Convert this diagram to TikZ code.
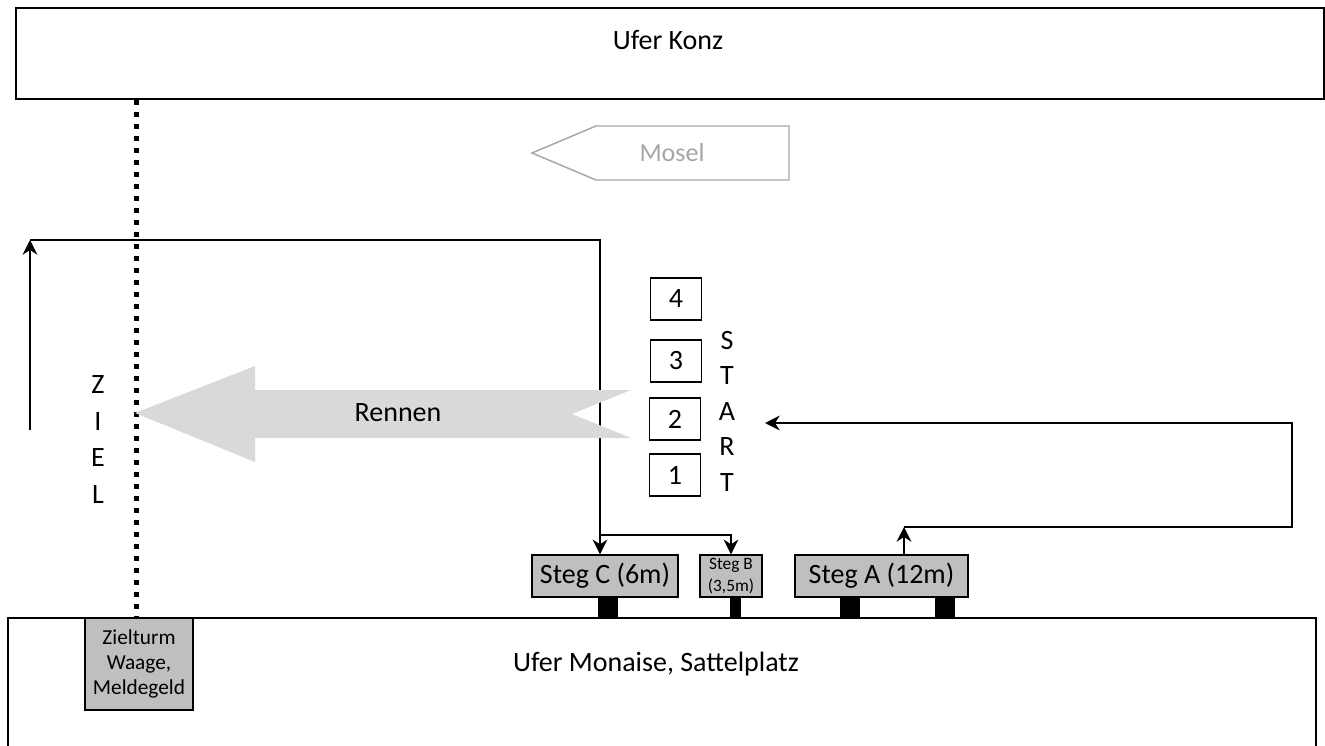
\documentclass[tikz,border=0pt]{standalone}
\usepackage{fontspec}
\setmainfont{Carlito}
\usetikzlibrary{arrows.meta}
\definecolor{stegfill}{RGB}{191,191,191}
\definecolor{racefill}{RGB}{217,217,217}
\definecolor{riverline}{RGB}{166,166,166}
\tikzset{
  bigtext/.style={font=\fontsize{21}{25}\selectfont},
  steg/.style={draw, fill=stegfill, line width=1.1pt, minimum height=31.5pt, inner sep=0pt, bigtext},
  startbox/.style={draw, line width=1.1pt, minimum width=38.25pt, minimum height=31.5pt, inner sep=0pt, bigtext},
  route/.style={line width=1.2pt, -{Stealth[length=11pt,width=11pt,inset=3.5pt]}}
}

\begin{document}
\begin{tikzpicture}[x=0.75pt,y=0.75pt,yscale=-1,xscale=1]
\useasboundingbox (0,0) rectangle (1325,746);

%Shape: Rectangle [Ufer Konz]
\node (konz) [draw, line width=1.5pt, minimum width=981pt, minimum height=68.25pt] at (670,53.5) {};
% Text Node
\node (konzlabel) [bigtext] at (668,40) {Ufer Konz};

%Shape: Rectangle [Ufer Monaise]
\draw [line width=1.1pt] (8,752) -- (8,618) -- (1316,618) -- (1316,752);
% Text Node
\node (monaise) [bigtext] at (656,664) {Ufer Monaise, Sattelplatz};

%Shape: Pentagon [Mosel]
\draw [riverline, line width=1.1pt] (789,126) -- (596,126) -- (532,153) -- (596,180) -- (789,180) -- cycle;
% Text Node
\node (mosel) [text=riverline, font=\fontsize{19.5}{23}\selectfont] at (672,153) {Mosel};

%Shape: Zielturm
\node (zielturm) [steg, minimum width=81pt, minimum height=69pt, align=center, font=\fontsize{16}{19}\selectfont] at (139,664) {Zielturm\\Waage,\\Meldegeld};

%Straight Lines [Ziellinie]
\coordinate (finish) at (136,0);
\draw [line width=3.75pt, dash pattern=on 3.75pt off 5.25pt] (konz.south -| finish) -- (zielturm.north -| finish);

% Text Node
\node (ziel) [align=center, font=\fontsize{21}{27.6}\selectfont] at (98,439.5) {Z\\I\\E\\L};
% Text Node
\node (start) [align=center, font=\fontsize{21}{26.6}\selectfont] at (727,411) {S\\T\\A\\R\\T};

%Shape: Start boxes
\node (s4) [startbox] at (676,299) {4};
\node (s3) [startbox] at (676,361) {3};
\node (s2) [startbox] at (675,419) {2};
\node (s1) [startbox] at (675,475) {1};

%Shape: Stege
\node (stegC) [steg, minimum width=109.5pt] at (605,576) {Steg C (6m)};
\node (stegB) [steg, minimum width=46.5pt, align=center, font=\fontsize{13}{16.5}\selectfont] at (731,576) {Steg B\\(3,5m)};
\node (stegA) [steg, minimum width=129.75pt] at (881.5,576) {Steg A (12m)};
\fill (598,597) rectangle (618,618);
\fill (730,597) rectangle (741,618);
\fill (840,597) rectangle (860,618);
\fill (935,597) rectangle (955,618);

%Straight Lines [Rueckweg]
\coordinate (mark) at (30,430);
\coordinate (turnup) at (30,240);
\coordinate (split) at (600,535);
\draw [route] (mark) -- (turnup);
\draw [route] (turnup) -| (split |- stegC.north);
\draw [route] (split) -| (stegB.north);

%Straight Lines [Zum Start]
\coordinate (launch) at (904,527);
\coordinate (loop) at (1292,423);
\coordinate (startin) at (765,423);
\draw [route] (launch |- stegA.north) -- (launch);
\draw [route] (launch) -| (loop) -- (startin);

%Shape: Arrow [Rennen]
\fill [racefill] (135,413) -- (255,366) -- (255,390) -- (631,390) -- (572,414) -- (631,438) -- (255,438) -- (255,462) -- cycle;
% Text Node
\node (rennen) [bigtext] at (398,413) {Rennen};

\end{tikzpicture}
\end{document}
